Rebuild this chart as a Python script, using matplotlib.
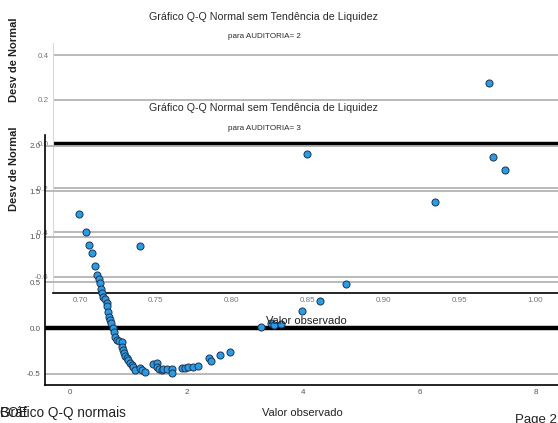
import matplotlib
matplotlib.use('Agg')
from matplotlib import pyplot as plt

plt.rcParams['font.family'] = ['Liberation Sans', 'DejaVu Sans']

# grafico de tras: AUDITORIA = 2
obs_a = [0.9697, 0.8497, 0.7396]
dev_a = [0.273, -0.045, -0.459]
xticks_a = [0.70, 0.75, 0.80, 0.85, 0.90, 0.95, 1.00]
yticks_a = [0.4, 0.2, 0.0, -0.2, -0.4, -0.6]

# grafico da frente: AUDITORIA = 3
obs_b = [0.15, 0.27, 0.33, 0.38, 0.43, 0.46, 0.50, 0.52, 0.53, 0.55, 0.57, 0.60,
         0.64, 0.64, 0.65, 0.67, 0.69, 0.70, 0.74, 0.76, 0.77, 0.81, 0.84, 0.89,
         0.89, 0.91, 0.93, 0.94, 0.98, 1.00, 1.03, 1.06, 1.08, 1.12, 1.20, 1.24,
         1.29, 1.42, 1.49, 1.49, 1.53, 1.58, 1.60, 1.67, 1.75, 1.75, 1.92, 1.97,
         2.03, 2.11, 2.20, 2.39, 2.42, 2.58, 2.75, 3.28, 3.45, 3.50, 3.62, 3.98,
         4.29, 4.74, 6.27, 7.26, 7.47]
dev_b = [1.25, 1.05, 0.91, 0.82, 0.68, 0.58, 0.54, 0.49, 0.43, 0.38, 0.34, 0.32,
         0.27, 0.24, 0.18, 0.12, 0.09, 0.05, 0.00, -0.04, -0.10, -0.13, -0.14, -0.15,
         -0.21, -0.24, -0.27, -0.31, -0.33, -0.35, -0.38, -0.41, -0.43, -0.46, -0.44, -0.46,
         -0.48, -0.40, -0.38, -0.43, -0.45, -0.46, -0.45, -0.45, -0.45, -0.49, -0.44, -0.44,
         -0.43, -0.43, -0.42, -0.33, -0.36, -0.30, -0.26, 0.01, 0.05, 0.03, 0.04, 0.19,
         0.30, 0.48, 1.38, 1.88, 1.74]
xticks_b = [0, 2, 4, 6, 8]
yticks_b = [2.0, 1.5, 1.0, 0.5, 0.0, -0.5]

W, H = 558, 423
fig = plt.figure(figsize=(W / 100, H / 100), dpi=100)

def virgula(v, casas):
    return ('%.' + str(casas) + 'f') % v

def px(x0, y0, x1, y1):
    return [x0 / W, 1 - y1 / H, (x1 - x0) / W, (y1 - y0) / H]

grid_c = '#b4b4b4'
pt_face = '#2b9be6'
pt_edge = '#1c3550'

def monta(ax, obs, dev, xt, yt, xlim, ylim, xd, yd, left_c, lab_c):
    ax.set_facecolor('none')
    ax.set_xlim(*xlim)
    ax.set_ylim(*ylim)
    for v in yt:
        if v == 0:
            ax.axhline(0, color='black', lw=3.2, zorder=2)
        else:
            ax.axhline(v, color=grid_c, lw=1.3, zorder=1)
    ax.scatter(obs, dev, s=26, c=pt_face, edgecolors=pt_edge, linewidths=0.7, zorder=3)
    ax.set_xticks(xt)
    ax.set_xticklabels([virgula(v, xd) for v in xt])
    ax.set_yticks(yt)
    ax.set_yticklabels([virgula(v, yd) for v in yt])
    ax.tick_params(length=0, labelsize=5.8, labelcolor=lab_c, pad=3)
    ax.spines['top'].set_visible(False)
    ax.spines['right'].set_visible(False)
    ax.spines['left'].set_color(left_c)
    ax.spines['bottom'].set_color('black')
    ax.spines['bottom'].set_linewidth(1.2)

ax_a = fig.add_axes(px(53, 43, 558, 293))
monta(ax_a, obs_a, dev_a, xticks_a, yticks_a, (0.6822, 1.0152), (-0.673, 0.455), 2, 1,
      '#d8d8d8', '#777777')

ax_b = fig.add_axes(px(45, 135, 558, 385))
monta(ax_b, obs_b, dev_b, xticks_b, yticks_b, (-0.43, 8.38), (-0.626, 2.12), 0, 1,
      'black', '#555555')
ax_b.spines['left'].set_linewidth(1.2)

tc = '#2a2a2a'
for yy, sub in [(17, 'para AUDITORIA= 2'), (108, 'para AUDITORIA= 3')]:
    fig.text(263 / W, 1 - yy / H, 'Gráfico Q-Q Normal sem Tendência de Liquidez',
             ha='center', va='center', fontsize=7.7, color=tc)
    fig.text(264 / W, 1 - (yy + 20) / H, sub, ha='center', va='center',
             fontsize=5.8, color=tc)

for yy in [60, 169]:
    fig.text(14 / W, 1 - yy / H, 'Desv de Normal', rotation=90, ha='center',
             va='center', fontsize=8, fontweight='bold', color='#222222')

fig.text(306 / W, 1 - 321 / H, 'Valor observado', ha='center', va='center',
         fontsize=8, color='#222222')
fig.text(302 / W, 1 - 413 / H, 'Valor observado', ha='center', va='center',
         fontsize=8, color='#222222')

fig.text(0, 1 - 413 / H, 'Gráfico Q-Q normais', ha='left', va='center',
         fontsize=9.8, color='#222222')
fig.text(0, 1 - 413 / H, 'BOE', ha='left', va='center',
         fontsize=9.8, color='#222222')
fig.text(515 / W, 1 - 420 / H, 'Page 2', ha='left', va='center',
         fontsize=9.5, color='#222222')

fig.savefig('out.png', dpi=100)
